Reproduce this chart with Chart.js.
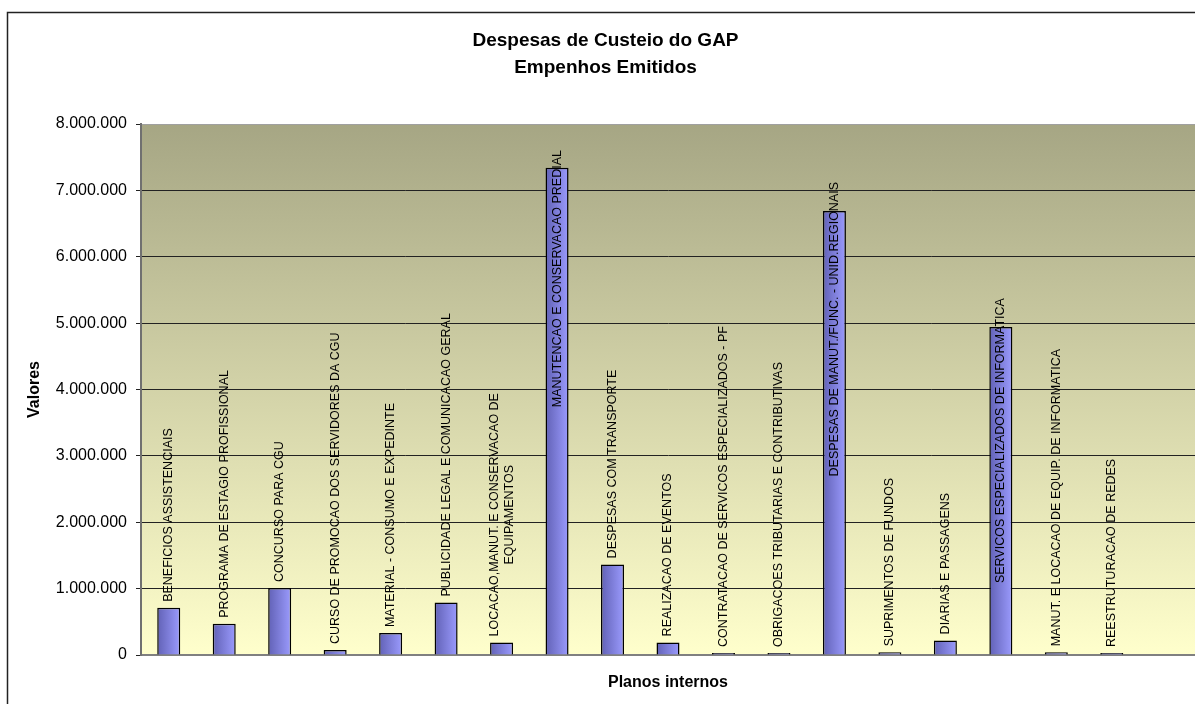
<!DOCTYPE html>
<html>
<head>
<meta charset="utf-8">
<script src="https://cdn.jsdelivr.net/npm/chart.js@4.4.1/dist/chart.umd.min.js"></script>
<style>
  body { margin: 0; background: #fff; }
  #wrap { width: 1195px; height: 704px; }
</style>
</head>
<body>
<div id="wrap"><canvas id="gapChart"></canvas></div>
<script>
// planos internos (categorias do eixo x)
const categorias = [
  "BENEFICIOS ASSISTENCIAIS",
  "PROGRAMA DE ESTAGIO PROFISSIONAL",
  "CONCURSO PARA CGU",
  "CURSO DE PROMOCAO DOS SERVIDORES DA CGU",
  "MATERIAL - CONSUMO E EXPEDINTE",
  "PUBLICIDADE LEGAL E COMUNICACAO GERAL",
  ["LOCACAO,MANUT. E CONSERVACAO DE", "EQUIPAMENTOS"],
  "MANUTENCAO E CONSERVACAO PREDIAL",
  "DESPESAS COM TRANSPORTE",
  "REALIZACAO DE EVENTOS",
  "CONTRATACAO DE SERVICOS ESPECIALIZADOS - PF",
  "OBRIGACOES TRIBUTARIAS E CONTRIBUTIVAS",
  "DESPESAS DE MANUT./FUNC. - UNID.REGIONAIS",
  "SUPRIMENTOS DE FUNDOS",
  "DIARIAS E PASSAGENS",
  "SERVICOS ESPECIALIZADOS DE INFORMATICA",
  "MANUT. E LOCACAO DE EQUIP. DE INFORMATICA",
  "REESTRUTURACAO DE REDES",
  ""
];

// empenhos emitidos (R$)
const valores = [
  710000, 470000, 1010000, 75000, 330000, 790000, 190000, 7340000,
  1365000, 190000, 30000, 30000, 6690000, 40000, 220000, 4940000,
  40000, 30000, null
];

const titulo = ["Despesas de Custeio do GAP", "Empenhos Emitidos"];
const tituloY = "Valores";
const tituloX = "Planos internos";

const fonte = '"Liberation Sans", Arial, sans-serif';
Chart.defaults.font.family = fonte;
Chart.defaults.color = "#000";

// formato 8.000.000
function formataValor(v) {
  return String(v).replace(/\B(?=(\d{3})+(?!\d))/g, ".");
}

// fundo da área do gráfico + moldura externa
const fundo = {
  id: "fundo",
  beforeDraw(chart) {
    const ctx = chart.ctx;
    const a = chart.chartArea;
    ctx.save();
    const g = ctx.createLinearGradient(0, a.top, 0, a.bottom);
    g.addColorStop(0, "#a6a684");
    g.addColorStop(1, "#ffffcc");
    ctx.fillStyle = g;
    ctx.fillRect(a.left, a.top, a.right - a.left, a.bottom - a.top);
    ctx.strokeStyle = "#222";
    ctx.lineWidth = 1.5;
    ctx.strokeRect(7.5, 12.5, chart.width + 20, chart.height + 20);
    ctx.restore();
  }
};

// nomes das categorias escritos na vertical sobre cada barra
const rotuloBarras = {
  id: "rotuloBarras",
  afterDatasetsDraw(chart) {
    const ctx = chart.ctx;
    const area = chart.chartArea;
    const meta = chart.getDatasetMeta(0);
    ctx.save();
    ctx.font = "12.5px " + fonte;
    ctx.fillStyle = "#000";
    ctx.textBaseline = "middle";
    ctx.textAlign = "center";
    meta.data.forEach((bar, i) => {
      const txt = chart.data.labels[i];
      if (!txt || valores[i] == null) return;
      const linhas = Array.isArray(txt) ? txt : [txt];
      const larg = Math.max(...linhas.map(l => ctx.measureText(l).width));
      let base = bar.y - 6;
      if (base - larg < area.top) {
        // não cabe acima da barra: desce para dentro dela
        const topo = Math.max(bar.y - 29, area.top + 26);
        base = topo + larg;
      }
      ctx.save();
      ctx.translate(bar.x, base - larg / 2);
      ctx.rotate(-Math.PI / 2);
      linhas.forEach((l, k) => ctx.fillText(l, 0, (k - (linhas.length - 1) / 2) * 15));
      ctx.restore();
    });
    ctx.restore();
  }
};

document.addEventListener("DOMContentLoaded", function () {
  const ctx = document.getElementById("gapChart").getContext("2d");

  new Chart(ctx, {
    type: "bar",
    data: {
      labels: categorias,
      datasets: [{
        data: valores,
        backgroundColor(c) {
          const chart = c.chart;
          const x = chart.scales.x;
          if (!chart.chartArea || !x) return "#9999ff";
          const cx = x.getPixelForValue(c.dataIndex);
          const g = chart.ctx.createLinearGradient(cx - 12, 0, cx + 12, 0);
          g.addColorStop(0, "#6060b4");
          g.addColorStop(1, "#9c9cff");
          return g;
        },
        borderColor: "#000",
        borderWidth: 1.5,
        barPercentage: 0.415,
        categoryPercentage: 1.0
      }]
    },
    options: {
      responsive: true,
      maintainAspectRatio: false,
      animation: false,
      layout: { padding: { left: 16, right: 0, top: 0, bottom: 0 } },
      plugins: {
        legend: { display: false },
        tooltip: { enabled: false },
        title: {
          display: true,
          text: titulo,
          font: { size: 19, weight: "bold", lineHeight: 27 / 19 },
          color: "#000",
          padding: { top: 27.5, bottom: 42.5 }
        }
      },
      scales: {
        x: {
          grid: { display: true, drawOnChartArea: false, drawTicks: false },
          border: { display: true, color: "#808080", width: 2 },
          ticks: { display: false },
          title: {
            display: true,
            text: tituloX,
            font: { size: 16, weight: "bold" },
            padding: { top: 0, bottom: 12 }
          },
          afterFit(scale) { scale.height = 49; }
        },
        y: {
          min: 0,
          max: 8000000,
          ticks: {
            stepSize: 1000000,
            padding: 9,
            font: { size: 16 },
            callback: v => formataValor(v)
          },
          grid: {
            color: c => (c.tick && c.tick.value === 8000000 ? "#a0a0a0" : "#222"),
            lineWidth: 1,
            tickLength: 5,
            tickColor: "#222"
          },
          border: { display: true, color: "#707070", width: 2 },
          title: {
            display: true,
            text: tituloY,
            font: { size: 16, weight: "bold" },
            padding: { top: 9, bottom: 0 }
          },
          afterFit(scale) { scale.width = 125; }
        }
      }
    },
    plugins: [fundo, rotuloBarras]
  });
});
</script>
</body>
</html>
